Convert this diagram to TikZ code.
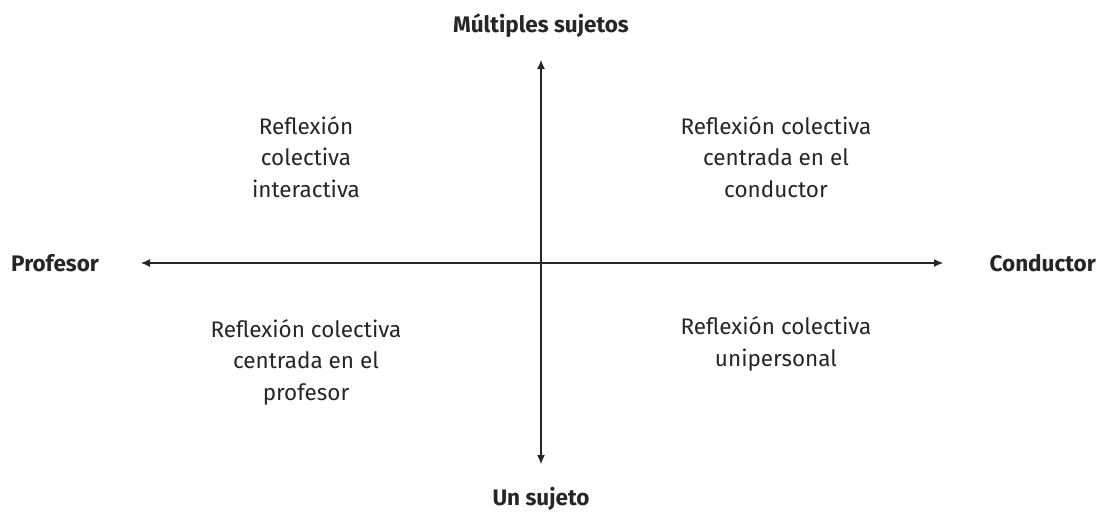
\documentclass[tikz,border=0pt]{standalone}
\usepackage{fontspec}
\setmainfont{Fira Sans}
\usetikzlibrary{arrows.meta}
\begin{document}
\begin{tikzpicture}[x=1pt,y=-1pt,
  axis/.style={line width=1.1pt,color=black!85,{Latex[length=9pt,width=8pt]}-{Latex[length=9pt,width=8pt]}},
  pole/.style={font=\fontsize{22.5}{26}\selectfont\bfseries,text=black!85,inner sep=0pt},
  quad/.style={font=\fontsize{22.5}{31.5}\selectfont\mdseries,text=black!85,align=center,inner sep=0pt}]
\useasboundingbox (0,0) rectangle (1101,512);
\coordinate (top) at (541,60);
\coordinate (bot) at (541,464);
\coordinate (lft) at (141,263);
\coordinate (rgt) at (943,263);
\draw[axis] (top) -- (bot);
\draw[axis] (lft) -- (rgt);
\node[pole] (multi) at (541,26) {Múltiples sujetos};
\node[pole] (uno) at (541,499) {Un sujeto};
\node[pole,anchor=west] (prof) at (11,263) {Profesor};
\node[pole,anchor=east] (cond) at (1096,263) {Conductor};
\node[quad] (q1) at (306,157) {Reflexión\\colectiva\\interactiva};
\node[quad] (q2) at (776,157) {Reflexión colectiva\\centrada en el\\conductor};
\node[quad] (q3) at (306,362) {Reflexión colectiva\\centrada en el\\profesor};
\node[quad] (q4) at (776,344) {Reflexión colectiva\\unipersonal};
\end{tikzpicture}
\end{document}
